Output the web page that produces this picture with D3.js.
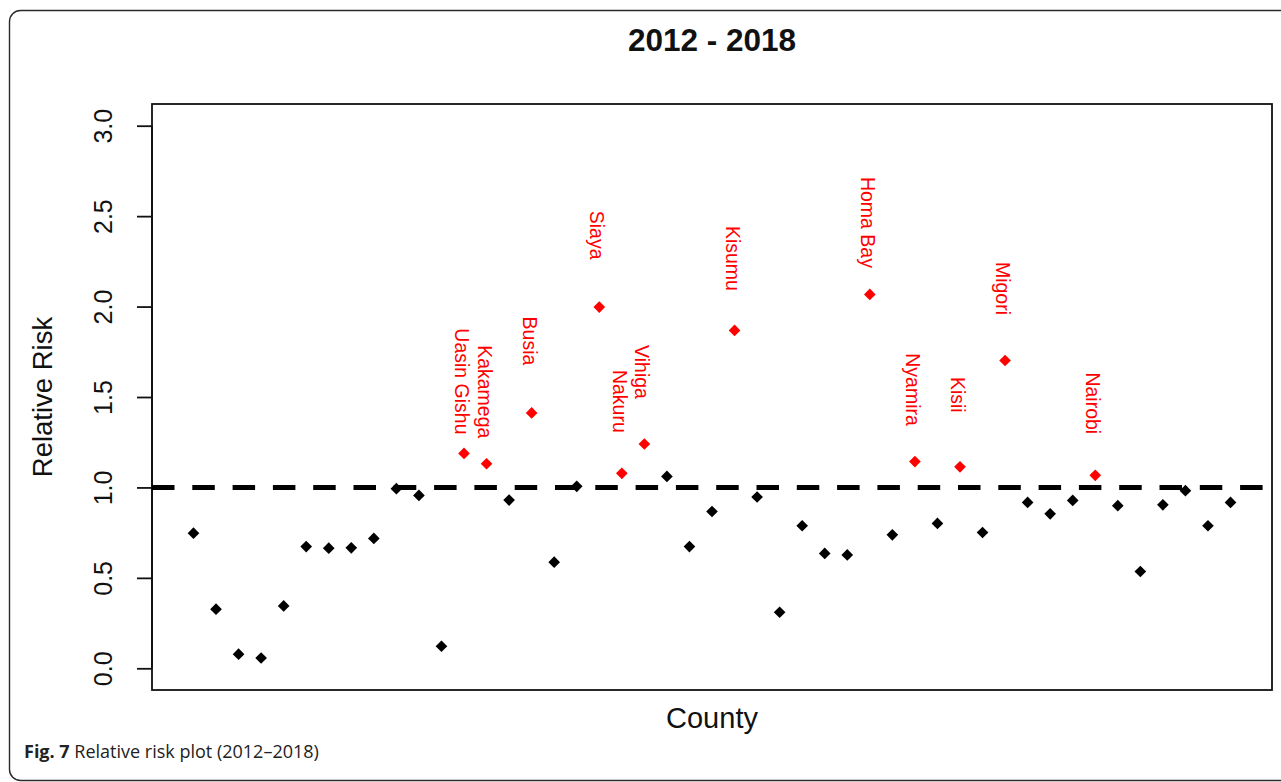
<!DOCTYPE html>
<html>
<head>
<meta charset="utf-8">
<script src="https://cdn.jsdelivr.net/npm/d3@7"></script>
<style>
  html, body { margin: 0; padding: 0; background: #fff; }
  svg { display: block; }
  text { font-family: "Liberation Sans", Arial, Helvetica, sans-serif; }
</style>
</head>
<body>
<svg id="chart" width="1281" height="782"></svg>
<script>
// Relative risk per county, in plotting order (1..47)
const relativeRisk = [
  0.747, 0.327, 0.078, 0.057, 0.345, 0.673, 0.664, 0.666, 0.718, 0.993,
  0.956, 0.122, 1.188, 1.131, 0.930, 1.412, 0.587, 1.006, 1.997, 1.078,
  1.240, 1.061, 0.673, 0.867, 1.868, 0.947, 0.310, 0.788, 0.635, 0.627,
  2.067, 0.738, 1.143, 0.801, 1.114, 0.751, 1.702, 0.917, 0.854, 0.928,
  1.067, 0.899, 0.535, 0.904, 0.982, 0.788, 0.917
];

// Names shown only for counties with significantly elevated risk
const countyLabels = [
  "", "", "", "", "", "", "", "", "", "",
  "", "", "Uasin Gishu", "Kakamega", "", "Busia", "", "", "Siaya", "Nakuru",
  "Vihiga", "", "", "", "Kisumu", "", "", "", "", "",
  "Homa Bay", "", "Nyamira", "", "Kisii", "", "Migori", "", "", "",
  "Nairobi", "", "", "", "", "", ""
];

const yTicks = [0.0, 0.5, 1.0, 1.5, 2.0, 2.5, 3.0];
const referenceLevel = 1.0;
const chartTitle = "2012 - 2018";
const xTitle = "County";
const yTitle = "Relative Risk";

const points = relativeRisk.map((v, i) => ({ index: i + 1, value: v, label: countyLabels[i] }));

const svg = d3.select("#chart");

// Figure frame with rounded corners (runs past the right edge)
const frame = d3.path();
frame.moveTo(1300, 10.5);
frame.lineTo(20.5, 10.5);
frame.arcTo(9.5, 10.5, 9.5, 21.5, 11);
frame.lineTo(9.5, 769.5);
frame.arcTo(9.5, 780.5, 20.5, 780.5, 11);
frame.lineTo(1300, 780.5);
svg.append("path").attr("d", frame.toString())
  .attr("fill", "none").attr("stroke", "#2a2a2a").attr("stroke-width", 1.4);

// Plot region
const plot = { left: 152, top: 104, right: 1272, bottom: 690 };

const x = d3.scaleLinear()
  .domain([1 - 0.04 * 46, 47 + 0.04 * 46])
  .range([plot.left, plot.right]);
const y = d3.scaleLinear()
  .domain([-0.12, 3.12])
  .range([plot.bottom, plot.top]);

// Box around plot
svg.append("rect")
  .attr("x", plot.left).attr("y", plot.top)
  .attr("width", plot.right - plot.left).attr("height", plot.bottom - plot.top)
  .attr("fill", "none").attr("stroke", "#111").attr("stroke-width", 1.8);

// Y axis with rotated tick labels
const yAxis = d3.axisLeft(y).tickValues(yTicks).tickSize(15).tickSizeOuter(0)
  .tickFormat(d3.format(".1f"));
const gy = svg.append("g").attr("transform", `translate(${plot.left},0)`).call(yAxis);
gy.select(".domain").attr("stroke", "#111").attr("stroke-width", 1.8)
  .attr("d", `M0,${y(0)}V${y(3)}`);
gy.selectAll(".tick line").attr("stroke", "#111").attr("stroke-width", 1.8);
gy.selectAll(".tick text")
  .attr("x", null).attr("dy", null)
  .attr("transform", "translate(-40,0) rotate(-90)")
  .attr("text-anchor", "middle")
  .attr("font-size", 25)
  .attr("font-family", "Liberation Sans, Arial, sans-serif")
  .attr("fill", "#111");

// Reference line at RR = 1
const clipId = "plot-clip";
svg.append("clipPath").attr("id", clipId).append("rect")
  .attr("x", plot.left).attr("y", plot.top)
  .attr("width", plot.right - plot.left).attr("height", plot.bottom - plot.top);
svg.append("line")
  .attr("clip-path", `url(#${clipId})`)
  .attr("x1", plot.left).attr("x2", plot.right)
  .attr("y1", y(referenceLevel)).attr("y2", y(referenceLevel))
  .attr("stroke", "#000").attr("stroke-width", 5)
  .attr("stroke-dasharray", "22.5 17.8");

// County markers (filled diamonds)
const diamond = d3.symbol().type(d3.symbolSquare).size(68);
svg.append("g").selectAll("path.pt")
  .data(points)
  .join("path")
  .attr("class", "pt")
  .attr("d", diamond)
  .attr("transform", d => `translate(${x(d.index)},${y(d.value)}) rotate(45)`)
  .attr("fill", d => d.label ? "#ff0000" : "#000");

// Vertical county labels above highlighted markers
svg.append("g").selectAll("text.lab")
  .data(points.filter(d => d.label))
  .join("text")
  .attr("class", "lab")
  .attr("transform", d => `translate(${x(d.index) - 2},${y(d.value) - 72}) rotate(90)`)
  .attr("text-anchor", "middle")
  .attr("dominant-baseline", "central")
  .attr("font-size", 19.5)
  .attr("fill", "#ff0000")
  .text(d => d.label);

// Titles
svg.append("text")
  .attr("x", (plot.left + plot.right) / 2).attr("y", 51)
  .attr("text-anchor", "middle").attr("font-weight", "bold")
  .attr("font-size", 31.5).attr("fill", "#111")
  .text(chartTitle);

svg.append("text")
  .attr("x", (plot.left + plot.right) / 2).attr("y", 728)
  .attr("text-anchor", "middle")
  .attr("font-size", 29).attr("fill", "#111")
  .text(xTitle);

svg.append("text")
  .attr("transform", `translate(51.5,${(plot.top + plot.bottom) / 2}) rotate(-90)`)
  .attr("text-anchor", "middle")
  .attr("font-size", 27.5).attr("fill", "#111")
  .text(yTitle);

// Figure caption
const caption = svg.append("text")
  .attr("x", 24).attr("y", 758)
  .attr("font-size", 18)
  .attr("fill", "#222")
  .style("font-family", "'Open Sans', 'Noto Sans', sans-serif");
caption.append("tspan").attr("font-weight", "bold").text("Fig. 7");
caption.append("tspan").text(" Relative risk plot (2012\u20132018)");
</script>
</body>
</html>
